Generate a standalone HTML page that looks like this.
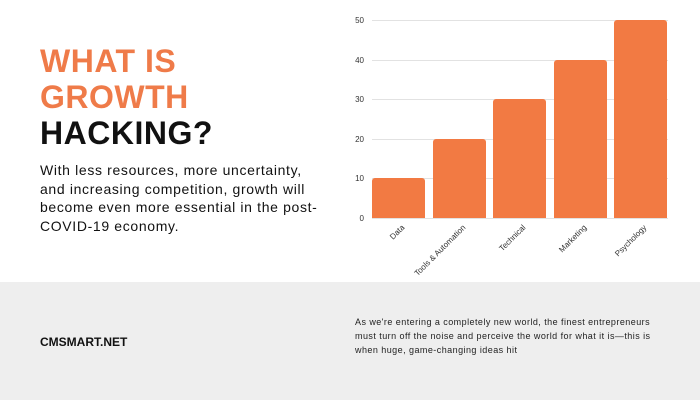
<!DOCTYPE html>
<html><head><style>
body{margin:0;width:700px;height:400px;background:#fff;position:relative;overflow:hidden;font-family:"Liberation Sans",sans-serif}
.t{position:absolute;left:40px;font-weight:bold;font-size:32px;line-height:36px;letter-spacing:0.5px}
.p{position:absolute;left:40px;top:161px;font-size:14px;line-height:18.5px;color:#111;white-space:nowrap;letter-spacing:0.65px}
.band{position:absolute;left:0;top:282px;width:700px;height:118px;background:#eeeeee}
</style></head><body>
<div class="t" style="top:43px;color:#ef7b49">WHAT IS<br>GROWTH</div>
<div class="t" style="top:115px;color:#111">HACKING?</div>
<div class="p">With less resources, more uncertainty,<br>and increasing competition, growth will<br>become even more essential in the post-<br>COVID-19 economy.</div>
<svg style="position:absolute;left:0;top:0" width="700" height="282">
<g stroke="#e2e2e2" stroke-width="1">
<line x1="372" x2="668" y1="20.5" y2="20.5"/><line x1="372" x2="668" y1="60.5" y2="60.5"/><line x1="372" x2="668" y1="99.5" y2="99.5"/><line x1="372" x2="668" y1="139.5" y2="139.5"/><line x1="372" x2="668" y1="178.5" y2="178.5"/><line x1="372" x2="668" y1="218.5" y2="218.5"/>
</g>
<g font-size="8" fill="#333" text-anchor="end">
<text x="364" y="23">50</text><text x="364" y="63">40</text><text x="364" y="102">30</text><text x="364" y="142">20</text><text x="364" y="181">10</text><text x="364" y="221">0</text>
</g>
<g fill="#f27a43">
<path d="M372,218V181a3,3 0 0 1 3,-3H422a3,3 0 0 1 3,3V218Z"/>
<path d="M433,218V142a3,3 0 0 1 3,-3H483a3,3 0 0 1 3,3V218Z"/>
<path d="M493,218V102a3,3 0 0 1 3,-3H543a3,3 0 0 1 3,3V218Z"/>
<path d="M554,218V63a3,3 0 0 1 3,-3H604a3,3 0 0 1 3,3V218Z"/>
<path d="M614,218V23a3,3 0 0 1 3,-3H664a3,3 0 0 1 3,3V218Z"/>
</g>
<g font-size="8" fill="#333" text-anchor="end">
<text transform="translate(405,228) rotate(-45)">Data</text>
<text transform="translate(466,228) rotate(-45)">Tools &amp; Automation</text>
<text transform="translate(526,228) rotate(-45)">Technical</text>
<text transform="translate(587,228) rotate(-45)">Marketing</text>
<text transform="translate(647,228) rotate(-45)">Psychology</text>
</g>
</svg>
<div class="band"></div>
<div style="position:absolute;left:40px;top:335px;font-size:12px;font-weight:bold;color:#111">CMSMART.NET</div>
<div style="position:absolute;left:355px;top:315px;font-size:9px;line-height:14px;color:#222;white-space:nowrap;letter-spacing:0.45px">As we're entering a completely new world, the finest entrepreneurs<br>must turn off the noise and perceive the world for what it is—this is<br>when huge, game-changing ideas hit</div>
</body></html>
